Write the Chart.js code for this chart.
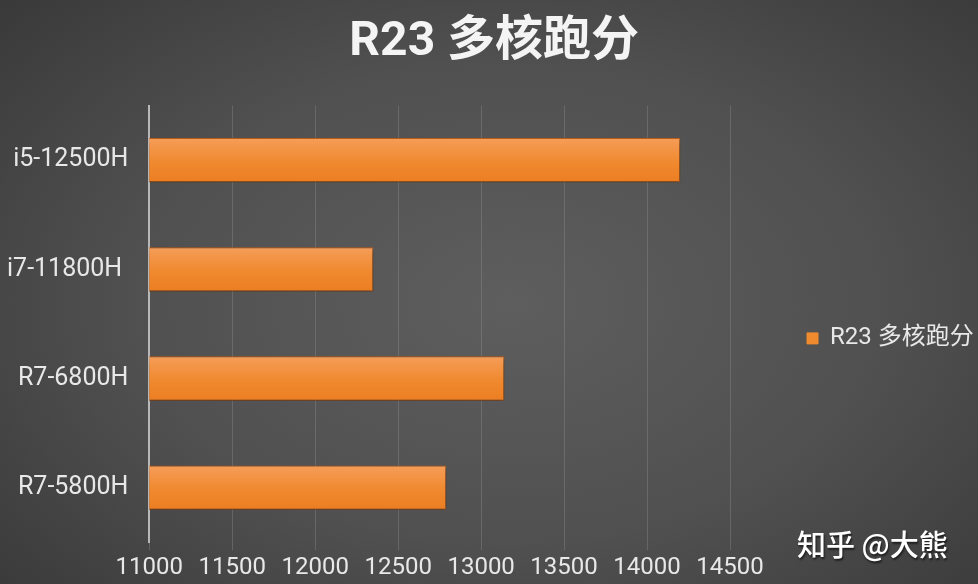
<!DOCTYPE html>
<html>
<head>
<meta charset="utf-8">
<script src="https://cdn.jsdelivr.net/npm/chart.js@4/dist/chart.umd.min.js"></script>
<style>
  html, body { margin: 0; padding: 0; }
  #wrap {
    position: relative;
    width: 978px;
    height: 584px;
    background: radial-gradient(ellipse 70% 75% at 52% 52%, #5e5e5e 0%, #505050 55%, #3a3a3a 100%);
    overflow: hidden;
  }
  #mark {
    position: absolute;
    left: 797px;
    top: 522px;
    font: 500 29px "Noto Sans CJK SC", sans-serif;
    color: #ffffff;
    text-shadow: 1px 2px 2px rgba(0,0,0,0.6);
    white-space: nowrap;
  }
</style>
</head>
<body>
<div id="wrap">
  <canvas id="chart" width="978" height="584"></canvas>
  <div id="mark">知乎 @大熊</div>
</div>
<script>
// Data ------------------------------------------------------------------------------

var CATEGORIES = ['i5-12500H', 'i7-11800H ', 'R7-6800H', 'R7-5800H'];
var SCORES = [14200, 12350, 13140, 12790];
var SERIES_LABEL = 'R23 多核跑分';
var TITLE_TEXT = 'R23 多核跑分';

var X_MIN = 11000;
var X_MAX = 14500;
var X_STEP = 500;

// Style ------------------------------------------------------------------------------

var FONT_FAMILY = 'Roboto, "Noto Sans CJK SC", sans-serif';
var BAR_TOP = '#f59d58';
var BAR_BOTTOM = '#ec7e22';
var BAR_BORDER = '#c4601c';
var TEXT_COLOR = '#e8e8e8';

// Vertical gradient on each bar, light at the top edge
function barFill(context) {
    var chart = context.chart;
    var yScale = chart.scales.y;
    if (!yScale || !chart.chartArea) {
        return BAR_BOTTOM;
    }
    var center = yScale.getPixelForValue(context.dataIndex);
    var half = 22;
    var grad = chart.ctx.createLinearGradient(0, center - half, 0, center + half);
    grad.addColorStop(0, BAR_TOP);
    grad.addColorStop(0.55, '#f0892f');
    grad.addColorStop(1, BAR_BOTTOM);
    return grad;
}

// Soft drop shadow under the bars, like the original
var barShadow = {
    id: 'barShadow',
    beforeDatasetsDraw: function (chart) {
        var ctx = chart.ctx;
        ctx.save();
        ctx.shadowColor = 'rgba(0, 0, 0, 0.45)';
        ctx.shadowBlur = 6;
        ctx.shadowOffsetX = 2;
        ctx.shadowOffsetY = 3;
    },
    afterDatasetsDraw: function (chart) {
        chart.ctx.restore();
    }
};

var chart = new Chart(document.getElementById('chart').getContext('2d'), {
    type: 'bar',
    data: {
        labels: CATEGORIES,
        datasets: [{
            label: SERIES_LABEL,
            data: SCORES,
            backgroundColor: barFill,
            borderColor: BAR_BORDER,
            borderWidth: 1,
            borderSkipped: false,
            barPercentage: 0.508,
            categoryPercentage: 0.8
        }]
    },
    options: {
        indexAxis: 'y',
        responsive: false,
        animation: false,
        layout: {
            padding: { left: -14, right: 0, top: 0, bottom: -1 }
        },
        plugins: {
            title: {
                display: true,
                // en space in front nudges the centred title slightly right
                text: '\u2002' + TITLE_TEXT,
                color: '#f4f4f4',
                font: { family: FONT_FAMILY, size: 48, weight: 'bold' },
                padding: { top: 14, bottom: 34 }
            },
            legend: {
                position: 'right',
                align: 'center',
                fullSize: false,
                title: {
                    display: true,
                    text: ' ',
                    font: { size: 20 },
                    padding: { top: 0, bottom: 5 }
                },
                labels: {
                    color: TEXT_COLOR,
                    font: { family: FONT_FAMILY, size: 24 },
                    boxWidth: 11,
                    boxHeight: 11,
                    padding: 77,
                    generateLabels: function (chart) {
                        var items = Chart.defaults.plugins.legend.labels.generateLabels(chart);
                        items.forEach(function (item) {
                            item.fillStyle = '#f08a2e';
                            item.strokeStyle = '#f08a2e';
                        });
                        return items;
                    }
                }
            },
            tooltip: { enabled: false }
        },
        scales: {
            x: {
                min: X_MIN,
                max: X_MAX,
                ticks: {
                    stepSize: X_STEP,
                    color: TEXT_COLOR,
                    font: { family: FONT_FAMILY, size: 24 },
                    padding: 3,
                    callback: function (value) { return String(value); }
                },
                grid: {
                    color: 'rgba(150, 150, 150, 0.35)',
                    drawTicks: true,
                    tickLength: 8
                },
                border: { display: false }
            },
            y: {
                ticks: {
                    color: TEXT_COLOR,
                    font: { family: FONT_FAMILY, size: 25 },
                    padding: 21
                },
                grid: { display: false, drawTicks: false },
                border: { display: true, color: '#b8b8b8', width: 2 }
            }
        }
    },
    plugins: [barShadow]
});
</script>
</body>
</html>
